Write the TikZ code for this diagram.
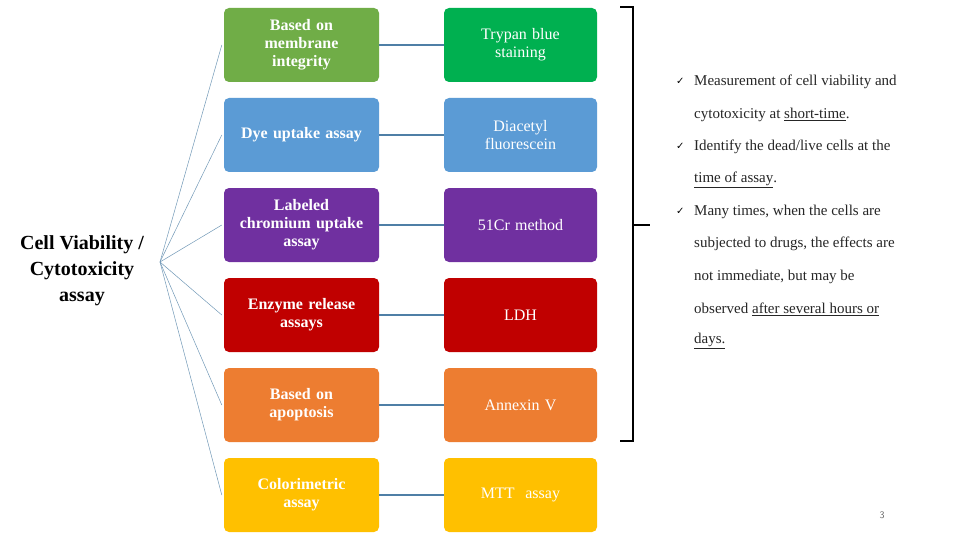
\documentclass[tikz,border=0pt]{standalone}
\usepackage{fontspec}
\setmainfont{Liberation Serif}
\newfontfamily\symfont{DejaVu Sans}
\begin{document}
\begin{tikzpicture}[x=1pt,y=-1pt,
  lbox/.style={rounded corners=5pt,minimum width=155pt,minimum height=74pt,text width=150pt,align=center,text=white,font=\fontsize{16}{18}\selectfont\bfseries,inner sep=2pt},
  rbox/.style={rounded corners=5pt,minimum width=153pt,minimum height=74pt,text width=148pt,align=center,text=white,font=\fontsize{16}{18}\selectfont,inner sep=2pt},
  conn/.style={draw=lnk,line width=1.2pt},
  fan/.style={draw=lnk!80,line width=0.5pt},
  btxt/.style={anchor=west,inner sep=0pt,font=\fontsize{15}{17}\selectfont,text=black!85},
  chk/.style={anchor=west,inner sep=0pt,font=\symfont\fontsize{10}{12}\selectfont}]
\definecolor{lnk}{HTML}{4F7FA6}
\definecolor{cA}{HTML}{70AD47}\definecolor{cA2}{HTML}{00B050}
\definecolor{cB}{HTML}{5B9BD5}\definecolor{cC}{HTML}{7030A0}
\definecolor{cD}{HTML}{C00000}\definecolor{cE}{HTML}{ED7D31}
\definecolor{cF}{HTML}{FFC000}
\useasboundingbox[fill=white] (0,0) rectangle (960,540);
\node[align=center,font=\fontsize{20}{26}\selectfont\bfseries] (root) at (82,271) {Cell Viability /\\Cytotoxicity\\assay};
\coordinate (hub) at (160,262);
\node[lbox,fill=cA] (l1) at (301.5,45) {Based on\\membrane\\integrity};
\node[lbox,fill=cB] (l2) at (301.5,135) {Dye uptake assay};
\node[lbox,fill=cC] (l3) at (301.5,225) {Labeled\\chromium uptake\\assay};
\node[lbox,fill=cD] (l4) at (301.5,315) {Enzyme release\\assays};
\node[lbox,fill=cE] (l5) at (301.5,405) {Based on\\apoptosis};
\node[lbox,fill=cF] (l6) at (301.5,495) {Colorimetric\\assay};
\node[rbox,fill=cA2] (r1) at (520.5,45) {Trypan blue\\staining};
\node[rbox,fill=cB] (r2) at (520.5,135) {Diacetyl\\fluorescein};
\node[rbox,fill=cC] (r3) at (520.5,225) {51Cr method};
\node[rbox,fill=cD] (r4) at (520.5,315) {LDH};
\node[rbox,fill=cE] (r5) at (520.5,405) {Annexin V};
\node[rbox,fill=cF] (r6) at (520.5,495) {MTT\ \ assay};
\foreach \i in {1,...,6}{
  \draw[fan] (hub) -- ([xshift=-2pt]l\i.west);
  \draw[conn] (l\i.east) -- (r\i.west);
}
\coordinate (bt) at (620,7);
\coordinate (bb) at (620,441);
\coordinate (bm) at (633,225);
\draw[line width=2.5pt] (bt) -- (633,7) -- (633,441) -- (bb);
\draw[line width=2.5pt] (bm) -- (650,225);
\node[chk] (k1) at (676,81) {✓};
\node[chk] (k2) at (676,146) {✓};
\node[chk] (k3) at (676,211) {✓};
\node[btxt] (t1) at (694,82) {Measurement of cell viability and};
\node[btxt] (t2) at (694,115) {cytotoxicity at \underline{short-time}.};
\node[btxt] (t3) at (694,147) {Identify the dead/live cells at the};
\node[btxt] (t4) at (694,180) {\underline{time of assay}.};
\node[btxt] (t5) at (694,212) {Many times, when the cells are};
\node[btxt] (t6) at (694,244) {subjected to drugs, the effects are};
\node[btxt] (t7) at (694,277) {not immediate, but may be};
\node[btxt] (t8) at (694,309) {observed \underline{after several hours or}};
\node[btxt] (t9) at (694,341) {\underline{days.}};
\node[font=\sffamily\fontsize{10}{12}\selectfont,text=black!60] (pg) at (882,515) {3};
\end{tikzpicture}
\end{document}
